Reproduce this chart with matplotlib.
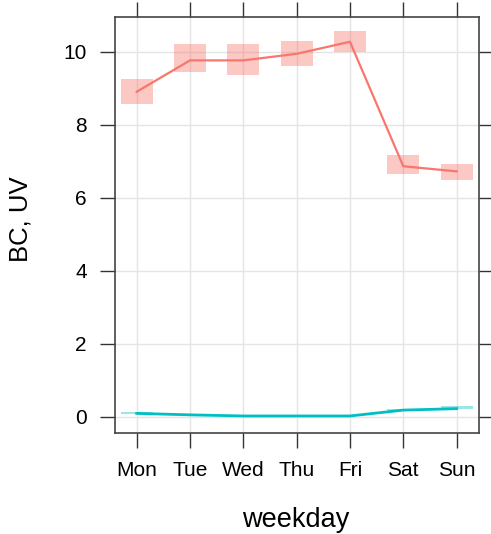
import matplotlib
matplotlib.use("Agg")
import matplotlib.pyplot as plt
from matplotlib.patches import Rectangle

plt.rcParams['font.family'] = ['Liberation Sans', 'DejaVu Sans']

days = ["Mon", "Tue", "Wed", "Thu", "Fri", "Sat", "Sun"]
bc_mean = [8.9, 9.76, 9.76, 9.94, 10.27, 6.86, 6.72]
bc_lower = [8.57, 9.44, 9.37, 9.60, 10.00, 6.65, 6.49]
bc_upper = [9.24, 10.20, 10.20, 10.28, 10.56, 7.18, 6.91]
uv_mean = [0.09, 0.05, 0.02, 0.02, 0.02, 0.18, 0.22]
uv_lower = [0.07, 0.04, 0.01, 0.01, 0.01, 0.16, 0.20]
uv_upper = [0.13, 0.08, 0.03, 0.03, 0.03, 0.21, 0.28]
yticks = [0, 2, 4, 6, 8, 10]

red = "#F8766D"
cyan = "#00BFC4"

W, H = 491, 534
fig = plt.figure(figsize=(W / 100, H / 100), dpi=100)
ax = fig.add_axes([114.7 / W, 1 - 433 / H, (479 - 114.7) / W, (433 - 17.3) / H])

x = list(range(1, len(days) + 1))
bw = 0.6
for xi, lo, hi in zip(x, bc_lower, bc_upper):
    ax.add_patch(Rectangle((xi - bw / 2, lo), bw, hi - lo, facecolor=red,
                           alpha=0.4, edgecolor='none', zorder=2))
for xi, lo, hi in zip(x, uv_lower, uv_upper):
    ax.add_patch(Rectangle((xi - bw / 2, lo), bw, hi - lo, facecolor=cyan,
                           alpha=0.4, edgecolor='none', zorder=2))

ax.plot(x, bc_mean, color=red, lw=1.6, zorder=3)
ax.plot(x, uv_mean, color=cyan, lw=2.0, zorder=3)

ax.set_xlim(0.5875, 7.42)
ax.set_ylim(-0.447, 10.94)
ax.set_xticks(x)
ax.set_xticklabels(days)
ax.set_yticks(yticks)
ax.set_yticklabels([str(v) for v in yticks])

ax.grid(True, color="#E4E4E4", lw=1.0, zorder=0)
ax.set_axisbelow(True)

ax.tick_params(axis='both', which='both', direction='out', length=10.5, width=1.0,
               color="#333333", labelsize=15, pad=9.5,
               top=True, right=True, labeltop=False, labelright=False)
for s in ax.spines.values():
    s.set_color("#444444")
    s.set_linewidth(1.2)

fig.text(296 / W, 1 - 527 / H, "weekday", ha='center', va='baseline', fontsize=19.5)
fig.text(33 / W, 1 - 219 / H, "BC, UV", ha='right', va='center', rotation=90,
         fontsize=18.5)

fig.savefig("out.png", dpi=100)
